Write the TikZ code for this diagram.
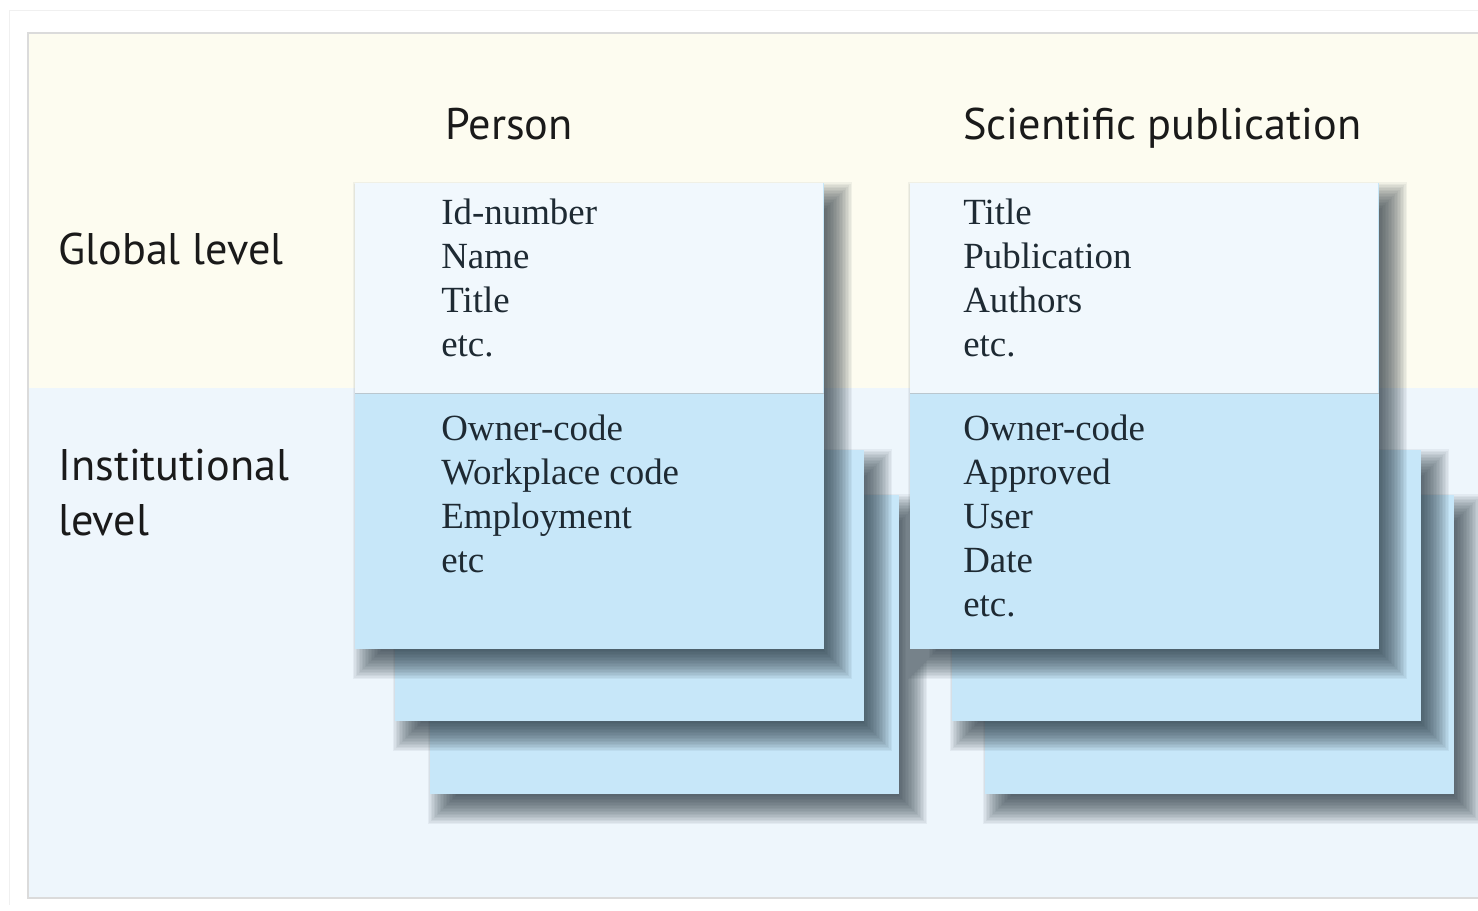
\documentclass[tikz,border=0pt]{standalone}
\usepackage{fontspec}
\setmainfont{Liberation Serif}
\setsansfont{PT Sans}
\usepackage{tikz}
\usetikzlibrary{positioning}
\usepackage{xcolor}
\definecolor{creamband}{HTML}{FDFCF0}
\definecolor{blueband}{HTML}{EEF6FC}
\definecolor{globalfill}{HTML}{F1F8FD}
\definecolor{instfill}{HTML}{C7E7F9}
\definecolor{fieldtext}{HTML}{1E2A33}
\definecolor{headtext}{HTML}{1A1A1A}
\definecolor{shadowtone}{HTML}{1C2A34}

% soft shadow behind a card node, drawn as stacked faint rectangles
\newcommand{\cardshadow}[1]{%
  \foreach \e in {-16,-14.5,...,16}
    \fill[shadowtone, opacity=0.055] ([shift={(13-\e,-15-\e)}]#1.south west) rectangle ([shift={(13+\e,-15+\e)}]#1.north east);
  \fill[instfill] (#1.south west) rectangle (#1.north east);
}

\begin{document}
\begin{tikzpicture}
      [x=0.02cm, y=0.02cm,
      card style/.style={rectangle, anchor=north west, inner sep=0pt, minimum width=9.36cm},
      global style/.style={rectangle, anchor=north west, inner sep=0pt, fill=globalfill, minimum width=9.36cm, minimum height=4.2cm},
      head style/.style={anchor=base west, inner sep=0pt, text=headtext, font=\sffamily\fontsize{25.2}{30}\selectfont},
      field style/.style={anchor=base west, inner sep=0pt, text=fieldtext, font=\fontsize{21}{25}\selectfont},
      divider/.style={draw=instfill!70!black!60, line width=0.8pt}
      ]
    
      \useasboundingbox (0,0) rectangle (1478,-911);
      % bands and frame
      \fill[blueband] (28,-388) rectangle (1478,-898);
      \fill[creamband] (28,-33) rectangle (1478,-388);
      \draw[black!6] (1478,-10) -- (9,-10) -- (9,-905);
      \draw[black!14, line width=0.8pt] (1478,-33) -- (28,-33) -- (28,-898) -- (1478,-898);

      % level labels
      \node[head style] (globallevel) at (58,-265) {Global level};
      \node[head style] (instlevel) at (58,-481) {Institutional};
      \node[head style] (instlevel2) at (58,-536) {level};

      % person stack
      \node[head style] (personhead) at (445,-140) {Person};
      \node[card style, minimum height=5.96cm] (personback) at (430,-495) {};
      \cardshadow{personback}
      \node[card style, minimum height=5.4cm] (personmid) at (395,-450) {};
      \cardshadow{personmid}
      \node[card style, minimum height=9.3cm] (personbox) at (355,-183) {};
      \cardshadow{personbox}
      \node[global style] (personglobal) at (personbox.north west) {};
      \draw[divider] (personglobal.south west) -- (personglobal.south east);
      \foreach \t [count=\i] in {Id-number, Name, Title, etc.}
        \node[field style] (personglobal-\i) at (441,{-225-44*(\i-1)}) {\t};
      \foreach \t [count=\i] in {Owner-code, Workplace code, Employment, etc}
        \node[field style] (personinst-\i) at (441,{-441-44*(\i-1)}) {\t};

      % publication stack
      \node[head style] (pubhead) at (963,-140) {Scientific publication};
      \node[card style, minimum height=5.96cm] (pubback) at (985,-495) {};
      \cardshadow{pubback}
      \node[card style, minimum height=5.4cm] (pubmid) at (952,-450) {};
      \cardshadow{pubmid}
      \node[card style, minimum height=9.3cm] (pubbox) at (910,-183) {};
      \cardshadow{pubbox}
      \node[global style] (pubglobal) at (pubbox.north west) {};
      \draw[divider] (pubglobal.south west) -- (pubglobal.south east);
      \foreach \t [count=\i] in {Title, Publication, Authors, etc.}
        \node[field style] (pubglobal-\i) at (963,{-225-44*(\i-1)}) {\t};
      \foreach \t [count=\i] in {Owner-code, Approved, User, Date, etc.}
        \node[field style] (pubinst-\i) at (963,{-441-44*(\i-1)}) {\t};
    \end{tikzpicture}
\end{document}
